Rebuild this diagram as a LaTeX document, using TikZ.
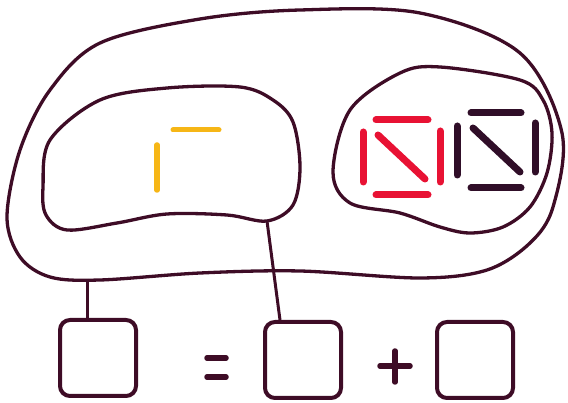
\documentclass[tikz,border=0pt]{standalone}
\usepackage{tikz}
\usetikzlibrary{positioning}
\definecolor{inkPurple}{RGB}{62,12,38}
\definecolor{stickRed}{RGB}{232,18,52}
\definecolor{stickDark}{RGB}{48,14,40}
\definecolor{stickYellow}{RGB}{246,182,22}
\tikzset{
  blob/.style={draw=inkPurple, line width=3.3pt, line join=round},
  box/.style={draw=inkPurple, line width=4pt, rounded corners=10pt, minimum size=76pt, inner sep=0pt},
  stick/.style={line width=7pt, line cap=round},
  link/.style={draw=inkPurple, line width=3pt},
  sign/.style={draw=inkPurple, line width=5.5pt, line cap=round}
}
\begin{document}
\begin{tikzpicture}[x=1pt, y=-1pt]
  \useasboundingbox (0,0) rectangle (568,403);
  % outer set
  \draw[blob] plot[smooth cycle, tension=0.55] coordinates {(300,10) (420,13) (520,53) (562,133) (553,207) (530,243) (487,270) (420,278) (300,271) (200,273) (100,280) (50,277) (20,257) (7,217) (20,150) (50,90) (100,43) (200,19)};
  % left subset
  \draw[blob] plot[smooth cycle, tension=0.55] coordinates {(100,100) (167,88) (240,87) (273,100) (293,122) (300,167) (293,205) (267,221) (227,215) (167,214) (117,223) (67,230) (46,215) (43,187) (50,140)};
  % right subset
  \draw[blob] plot[smooth cycle, tension=0.55] coordinates {(440,67) (520,80) (543,100) (552,133) (547,173) (530,207) (503,227) (470,233) (440,227) (400,213) (350,203) (333,172) (350,110) (400,73)};
  % yellow sticks
  \draw[stick, stickYellow, line width=5.5pt] (157,145) -- (157,190);
  \draw[stick, stickYellow, line width=5pt] (173,130) -- (219,130);
  % red sticks
  \draw[stick, stickRed] (376,120) -- (428,120);
  \draw[stick, stickRed] (363,132) -- (363,182);
  \draw[stick, stickRed] (378,135) -- (425,179);
  \draw[stick, stickRed] (440,131) -- (440,182);
  \draw[stick, stickRed] (376,195) -- (428,195);
  % dark sticks
  \draw[stick, stickDark] (471,113) -- (521,113);
  \draw[stick, stickDark] (457,126) -- (457,175);
  \draw[stick, stickDark] (473,128) -- (520,172);
  \draw[stick, stickDark] (535,123) -- (535,172);
  \draw[stick, stickDark] (471,188) -- (521,188);
  % equation boxes
  \node[box] (total) at (98,358) {};
  \node[box] (partA) at (303,360) {};
  \node[box] (partB) at (475,360) {};
  \draw[sign] (207,358) -- (226,358);
  \draw[sign] (207,377) -- (226,377);
  \draw[sign] (380,366) -- (410,366);
  \draw[sign] (395,351) -- (395,382);
  % links
  \coordinate (outerFoot) at (87,279);
  \coordinate (leftFoot) at (267,221);
  \draw[link] (outerFoot) -- (outerFoot |- total.north);
  \draw[link] (leftFoot) -- (280,320);
\end{tikzpicture}
\end{document}
